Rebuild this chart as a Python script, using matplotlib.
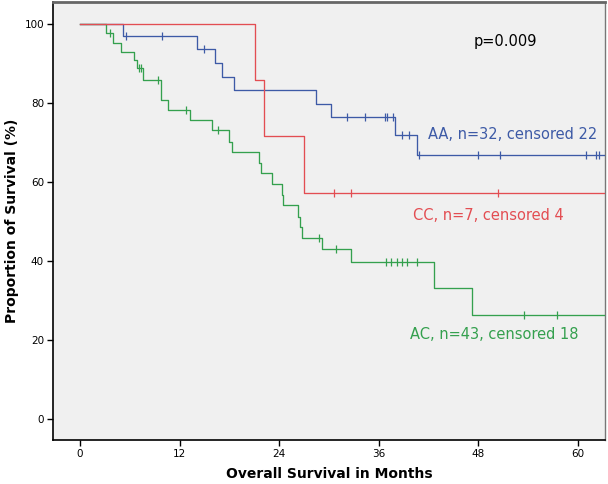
import numpy as np
import matplotlib.pyplot as plt

# step times (months) and survival (%) after each drop
aa_times = [0, 5.2, 14.1, 16.3, 17.1, 18.6, 28.4, 30.2, 38.0, 40.6, 64]
aa_surv = [100, 96.9, 93.6, 90.2, 86.7, 83.3, 79.7, 76.4, 71.9, 66.8, 66.8]
aa_cens = [5.5, 9.9, 14.9, 32.2, 34.3, 36.7, 37.0, 37.7, 38.8, 39.6, 40.8,
           47.9, 50.6, 60.9, 62.2, 62.5]

cc_times = [0, 21.1, 22.2, 27.0, 64]
cc_surv = [100, 85.8, 71.6, 57.3, 57.3]
cc_cens = [30.6, 32.7, 50.4]

ac_times = [0, 3.1, 4.0, 4.9, 6.5, 6.9, 7.55, 9.7, 9.8, 10.6, 13.3, 15.9,
            17.9, 18.3, 21.6, 21.8, 23.1, 24.3, 24.5, 26.3, 26.5, 26.8,
            29.1, 32.7, 42.6, 47.2, 64]
ac_surv = [100, 97.7, 95.3, 93.0, 90.9, 88.8, 85.8, 83.3, 80.7, 78.2, 75.7,
           73.1, 70.2, 67.6, 64.9, 62.2, 59.5, 56.7, 54.1, 51.2, 48.6, 45.9,
           42.9, 39.6, 33.0, 26.4, 26.4]
ac_cens = [3.6, 7.1, 7.3, 9.4, 12.8, 16.6, 28.8, 30.8, 36.9, 37.5, 38.2,
           38.8, 39.4, 40.6, 53.5, 57.5]

labels = ["AA, n=32, censored 22", "CC, n=7, censored 4", "AC, n=43, censored 18"]
x_ticks = [0, 12, 24, 36, 48, 60]
y_ticks = [0, 20, 40, 60, 80, 100]

blue = "#3d5aa6"
red = "#e34d52"
green = "#34a04e"


def level_at(times, surv, t):
    i = np.searchsorted(times, t, side="right") - 1
    return np.array(surv)[i]


def draw_group(ax, times, surv, cens, color, z):
    ax.step(times, surv, where="post", color=color, lw=0.95, zorder=z)
    ax.plot(cens, level_at(times, surv, cens), ls="none", marker="|",
            ms=6, mew=0.9, color=color, zorder=z)


def main():
    fig = plt.figure(figsize=(6.08, 4.84), dpi=100)
    ax = fig.add_axes([0.0872, 0.0909, 0.9079, 0.905])
    ax.set_facecolor("#f0f0f0")

    draw_group(ax, aa_times, aa_surv, aa_cens, blue, 3)
    draw_group(ax, ac_times, ac_surv, ac_cens, green, 4)
    draw_group(ax, cc_times, cc_surv, cc_cens, red, 5)

    ax.text(52.1, 71.9, labels[0], color=blue, fontsize=10.5, ha="center", va="center")
    ax.text(49.2, 51.6, labels[1], color=red, fontsize=10.5, ha="center", va="center")
    ax.text(49.9, 21.4, labels[2], color=green, fontsize=10.5, ha="center", va="center")
    ax.text(51.2, 95.5, "p=0.009", color="black", fontsize=10.5, ha="center", va="center")

    ax.set_xlim(-3.25, 63.25)
    ax.set_ylim(-5.4, 105.6)
    ax.set_xticks(x_ticks)
    ax.set_yticks(y_ticks)
    ax.tick_params(labelsize=7.5, length=4.5, width=1, colors="black", pad=2)

    ax.spines["left"].set_linewidth(1.2)
    ax.spines["bottom"].set_linewidth(1.2)
    ax.spines["top"].set_color("#666666")
    ax.spines["top"].set_linewidth(2)
    ax.spines["right"].set_color("#777777")
    ax.spines["right"].set_linewidth(1)

    ax.set_xlabel("Overall Survival in Months", fontsize=10, fontweight="bold", labelpad=6)
    ax.set_ylabel("Proportion of Survival (%)", fontsize=10, fontweight="bold", labelpad=4)

    fig.savefig("out.png", dpi=100)


if __name__ == "__main__":
    main()
